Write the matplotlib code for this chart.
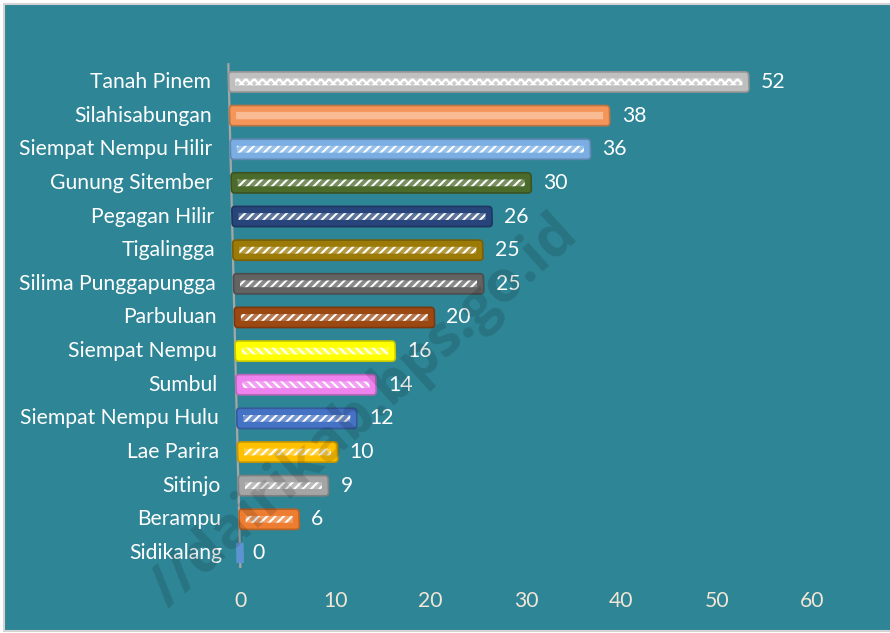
import numpy as np
import matplotlib
matplotlib.use("Agg")
import matplotlib.pyplot as plt
from matplotlib.patches import FancyBboxPatch, Rectangle
import matplotlib.transforms as mtransforms
import matplotlib.colors as mcolors

categories = ["Tanah Pinem", "Silahisabungan", "Siempat Nempu Hilir", "Gunung Sitember",
              "Pegagan Hilir", "Tigalingga", "Silima Punggapungga", "Parbuluan",
              "Siempat Nempu", "Sumbul", "Siempat Nempu Hulu", "Lae Parira",
              "Sitinjo", "Berampu", "Sidikalang"]
values = [52, 38, 36, 30, 26, 25, 25, 20, 16, 14, 12, 10, 9, 6, 0]
colors = ["#BFBFBF", "#F4965A", "#7AAEE3", "#4B6B2B", "#27457A", "#9C7A06", "#636363",
          "#9C4812", "#FFFF00", "#EE82EE", "#4472C4", "#FFC000", "#A5A5A5", "#ED7D31",
          "#5B9BD5"]
hatches = ["xxxx", None, "////", "////", "////", "////", "////", "////", "\\\\\\\\",
           "\\\\\\\\", "////", "////", "////", "////", None]
ticks = [0, 10, 20, 30, 40, 50, 60]

BG = "#2E8595"
plt.rcParams['font.family'] = ['Lato', 'DejaVu Sans']
plt.rcParams['hatch.linewidth'] = 1.5
FS = 15.2

fig = plt.figure(figsize=(8.9, 6.33), dpi=100, facecolor="white")
fig.add_artist(Rectangle((4 / 890, 2 / 633), 1.0, 1 - 6 / 633, transform=fig.transFigure,
                         facecolor=BG, edgecolor="#D4D4D4", lw=1.5, zorder=-10))

ax = fig.add_axes([210 / 890, 1 - 586.6 / 633, 650 / 890, (586.6 - 58.4) / 633])
ax.set_facecolor("none")
for s in ax.spines.values():
    s.set_visible(False)

skew = mtransforms.Affine2D(np.array([[1.0, -0.08, 0.0], [0.0, 1.0, 0.0], [0.0, 0.0, 1.0]])) + ax.transData

ypos = np.arange(len(categories))[::-1]
vals = np.array(values, dtype=float)

# skewed axis line (3D look)
ax.plot([0, 0], [-0.45, 14.56], color="#A6A6A6", lw=1.6, transform=skew, zorder=1,
        solid_capstyle="butt")

bars = ax.barh(ypos, vals, height=0.6, color=colors, transform=skew, zorder=2)
aspect = 10.0 / 33.64
for rect, col, v in zip(bars, colors, vals):
    ec = tuple(np.array(mcolors.to_rgb(col)) * 0.78)
    if v > 0:
        fb = FancyBboxPatch((rect.get_x(), rect.get_y()), rect.get_width(), rect.get_height(),
                            boxstyle="round,pad=0,rounding_size=0.35", mutation_aspect=aspect,
                            facecolor=col, edgecolor=ec, lw=1.2, transform=skew, zorder=3)
        ax.add_patch(fb)
        rect.set_visible(False)
    else:
        rect.set_edgecolor("#5E93D2")
        rect.set_linewidth(5.5)
        rect.set_joinstyle("round")
        rect.set_zorder(3)

# inner decorative stripes
for y, v, col, h in zip(ypos, vals, colors, hatches):
    if v <= 2:
        continue
    rgb = np.array(mcolors.to_rgb(col))
    if h is None:
        light = tuple(rgb + (1 - rgb) * 0.35)
        ax.barh(y, v - 1.3, left=0.65, height=0.22, color=light, lw=0, transform=skew, zorder=4)
    else:
        light = tuple(rgb + (1 - rgb) * 0.25)
        ax.barh(y, v - 1.3, left=0.65, height=0.2, facecolor=light, edgecolor="white",
                lw=0, hatch=h, transform=skew, zorder=4)

# category labels and value labels
for y, name, v in zip(ypos, categories, vals):
    ax.text(-1.8, y, name, transform=skew, ha="right", va="center", color="white",
            fontsize=FS)
    ax.text(v + 1.2, y, f"{int(v)}", transform=skew, ha="left", va="center",
            color="white", fontsize=FS)

ax.set_xlim(-3, 62)
ax.set_ylim(-1.0, 14.7)
ax.tick_params(axis="both", which="both", bottom=False, left=False,
               labelbottom=False, labelleft=False)

persp = 0.9533
sec = ax.secondary_xaxis("bottom", functions=(lambda x: x / persp, lambda s: s * persp))
sec.set_xticks(ticks)
sec.tick_params(length=0, pad=3, labelsize=FS, labelcolor="#F2E6D6")
for s in sec.spines.values():
    s.set_visible(False)

# watermark
fig.text(364 / 890, 1 - 412 / 633, "//dairikab.bps.go.id", rotation=42,
         rotation_mode="anchor", ha="center", va="center", fontsize=41,
         fontweight="bold", family=["Open Sans", "DejaVu Sans"], color="black",
         alpha=0.13, zorder=20)

fig.savefig("out.png", dpi=100, facecolor="white")
